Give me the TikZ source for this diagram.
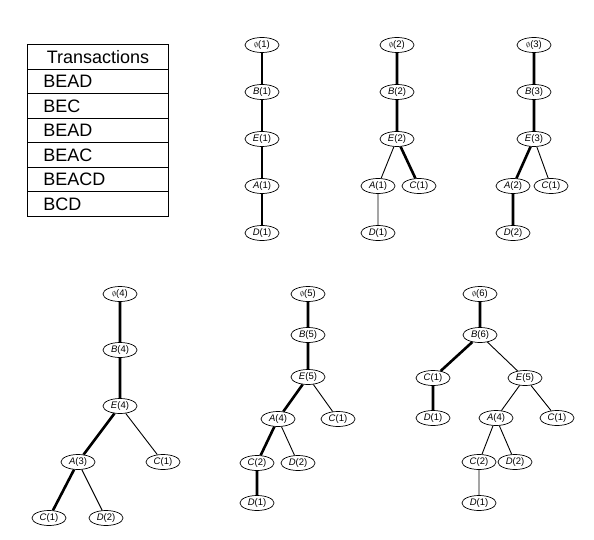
\documentclass[tikz,border=0pt]{standalone}
\usepackage{fontspec}
\setmainfont{Liberation Sans}
\usepackage{tikz}
\usetikzlibrary{shapes.geometric}

\tikzset{
    item/.style={ellipse, draw, line width=0.7pt, inner sep=0pt,
        minimum width=34pt, minimum height=15pt, font=\fontsize{9.5}{10}\selectfont},
    cell/.style={draw, line width=0.9pt, anchor=north west, inner sep=0pt,
        minimum width=141pt, minimum height=24.57pt, text width=125pt,
        align=left, font=\fontsize{18}{18}\selectfont},
    heavy/.style={line width=2.6pt},
    light/.style={line width=0.9pt}
}
\newcommand{\itm}[2]{\textit{#1}(#2)}
\newcommand{\rt}[1]{{\scriptsize$\emptyset$}(#1)}

\begin{document}
\begin{tikzpicture}[x=1pt,y=-1pt]
        \useasboundingbox (0,0) rectangle (594,540);
        % transaction table
        \node[cell,align=center] (tr0) at (27,44) {Transactions};
        \foreach \t [count=\i] in {BEAD,BEC,BEAD,BEAC,BEACD,BCD} {
            \node[cell] (tr\i) at (27,{44+24.57*\i}) {\hspace*{8pt}\t};
        }

        % tree 1
        \node[item] (a0) at (262,45) {\rt{1}};
        \node[item] (aB) at (262,92) {\itm{B}{1}};
        \node[item] (aE) at (262,139) {\itm{E}{1}};
        \node[item] (aA) at (262,186) {\itm{A}{1}};
        \node[item] (aD) at (262,233) {\itm{D}{1}};
        \draw[heavy] (a0) -- (aB) (aB) -- (aE) (aE) -- (aA) (aA) -- (aD);

        % tree 2
        \node[item] (b0) at (397,45) {\rt{2}};
        \node[item] (bB) at (397,92) {\itm{B}{2}};
        \node[item] (bE) at (397,139) {\itm{E}{2}};
        \node[item] (bA) at (378,186) {\itm{A}{1}};
        \node[item] (bC) at (419,186) {\itm{C}{1}};
        \node[item] (bD) at (378,233) {\itm{D}{1}};
        \draw[heavy] (b0) -- (bB) (bB) -- (bE) (bE) -- (bC);
        \draw[light] (bE) -- (bA) (bA) -- (bD);

        % tree 3
        \node[item] (c0) at (534,45) {\rt{3}};
        \node[item] (cB) at (534,92) {\itm{B}{3}};
        \node[item] (cE) at (534,139) {\itm{E}{3}};
        \node[item] (cA) at (513,186) {\itm{A}{2}};
        \node[item] (cC) at (551,186) {\itm{C}{1}};
        \node[item] (cD) at (513,233) {\itm{D}{2}};
        \draw[heavy] (c0) -- (cB) (cB) -- (cE) (cE) -- (cA) (cA) -- (cD);
        \draw[light] (cE) -- (cC);

        % tree 4
        \node[item] (d0) at (120,294) {\rt{4}};
        \node[item] (dB) at (120,350) {\itm{B}{4}};
        \node[item] (dE) at (120,406) {\itm{E}{4}};
        \node[item] (dA) at (78,462) {\itm{A}{3}};
        \node[item] (dC) at (163,462) {\itm{C}{1}};
        \node[item] (dAC) at (49,518) {\itm{C}{1}};
        \node[item] (dAD) at (106,518) {\itm{D}{2}};
        \draw[heavy] (d0) -- (dB) (dB) -- (dE) (dE) -- (dA) (dA) -- (dAC);
        \draw[light] (dE) -- (dC) (dA) -- (dAD);

        % tree 5
        \node[item] (e0) at (308,294) {\rt{5}};
        \node[item] (eB) at (308,335) {\itm{B}{5}};
        \node[item] (eE) at (308,377) {\itm{E}{5}};
        \node[item] (eA) at (278,419) {\itm{A}{4}};
        \node[item] (eC) at (338,419) {\itm{C}{1}};
        \node[item] (eAC) at (257,463) {\itm{C}{2}};
        \node[item] (eAD) at (298,463) {\itm{D}{2}};
        \node[item] (eACD) at (257,503) {\itm{D}{1}};
        \draw[heavy] (e0) -- (eB) (eB) -- (eE) (eE) -- (eA) (eA) -- (eAC)
            (eAC) -- (eACD);
        \draw[light] (eE) -- (eC) (eA) -- (eAD);

        % tree 6
        \node[item] (f0) at (480,294) {\rt{6}};
        \node[item] (fB) at (480,335) {\itm{B}{6}};
        \node[item] (fC) at (433,378) {\itm{C}{1}};
        \node[item] (fE) at (525,378) {\itm{E}{5}};
        \node[item] (fCD) at (433,418) {\itm{D}{1}};
        \node[item] (fA) at (496,418) {\itm{A}{4}};
        \node[item] (fEC) at (557,418) {\itm{C}{1}};
        \node[item] (fAC) at (479,462) {\itm{C}{2}};
        \node[item] (fAD) at (515,462) {\itm{D}{2}};
        \node[item] (fACD) at (479,503) {\itm{D}{1}};
        \draw[heavy] (f0) -- (fB) (fB) -- (fC) (fC) -- (fCD);
        \draw[light] (fB) -- (fE) (fE) -- (fA) (fE) -- (fEC) (fA) -- (fAC)
            (fA) -- (fAD) (fAC) -- (fACD);
    \end{tikzpicture}
\end{document}
